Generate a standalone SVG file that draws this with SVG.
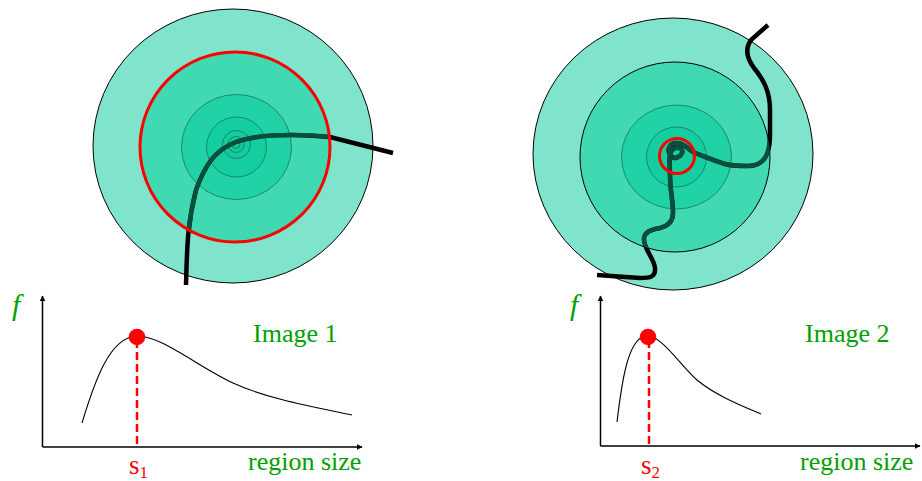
<svg xmlns="http://www.w3.org/2000/svg" width="922" height="481" viewBox="0 0 922 481">
<style>
.lbl{font-family:"Liberation Serif","Times New Roman",serif;font-size:26px;fill:#00a000}
.fl{font-family:"Liberation Serif","Times New Roman",serif;font-size:30px;font-style:italic;fill:#00a000}
.sl{font-family:"Liberation Serif","Times New Roman",serif;font-size:27px;fill:#ff0000}
.axis{stroke:#000;stroke-width:1.5;fill:none;marker-end:url(#arr)}
.fcurve{stroke:#000;stroke-width:1.1;fill:none}
.dash{stroke:#ff0000;stroke-width:2.5;stroke-dasharray:8 4;fill:none}
.ring{stroke:#1a6a55;stroke-width:0.9;stroke-opacity:0.8}
.path-out{stroke:#000;stroke-width:4.5;fill:none;stroke-linecap:butt}
.path-in{stroke:#0b6b52;stroke-width:4.2;fill:none;stroke-opacity:0.75}
</style>
<defs>
<marker id="arr" viewBox="0 0 10 10" refX="9" refY="5" markerWidth="6" markerHeight="6" markerUnits="userSpaceOnUse" orient="auto">
<path d="M0,0 L10,5 L0,10 z" fill="#000"/>
</marker>
<clipPath id="c1"><circle cx="235" cy="147" r="95"/></clipPath>
<clipPath id="c2"><circle cx="675" cy="157" r="95"/></clipPath>
</defs>

<g id="image1">
<ellipse cx="233" cy="146" rx="140" ry="137" fill="#80e4cc" stroke="#000" stroke-width="1"/>
<circle cx="235" cy="147" r="95" fill="#40d9b2"/>
<ellipse cx="236.5" cy="147" rx="55" ry="52.5" fill="#20d2a5" class="ring"/>
<circle cx="236.5" cy="147" r="30" fill="#14ce9f" class="ring"/>
<circle cx="236.5" cy="144.5" r="14" fill="#12cc9d" class="ring" stroke-opacity="0.5"/>
<circle cx="236" cy="144.5" r="8" fill="#10cb9c" class="ring" stroke-opacity="0.4"/>
<circle cx="236" cy="144.5" r="4" fill="none" class="ring" stroke-opacity="0.4"/>
</g>

<g id="image2">
<ellipse cx="673" cy="154" rx="140" ry="136" fill="#80e4cc" stroke="#000" stroke-width="1"/>
<circle cx="675" cy="157" r="95" fill="#40d9b2" stroke="#000" stroke-width="1"/>
<ellipse cx="676.5" cy="157" rx="55" ry="52" fill="#20d2a5" class="ring"/>
<circle cx="676.5" cy="157" r="30" fill="#14ce9f" class="ring"/>
</g>

<g id="connectors">
<path class="path-out" d="M186,285 C187,250 187,225 196,190 C205,165 215,150 236,142 C255,135 290,133 330,137 L393,153"/>
<path class="path-in" clip-path="url(#c1)" d="M186,285 C187,250 187,225 196,190 C205,165 215,150 236,142 C255,135 290,133 330,137 L393,153"/>
<path class="path-out" d="M768,25 L752,39 C745,47 746,57 754,68 C764,80 770,92 770,110 L770,135 C770,155 764,166 748,166 C738,166 732,166 725,164 C712,160 703,156 695,153 C688,150 685,143 677,143 C669,143 667,150 670,155 C673,160 680,158 682,153 C684,148 676,146 672,150 C668,155 670,165 670,175 C670,190 673,200 673,213 C673,222 668,226 660,228 C650,230 645,232 644,238 C643,248 654,258 655,268 C656,278 648,278 640,278 L597,275"/>
<path class="path-in" clip-path="url(#c2)" d="M768,25 L752,39 C745,47 746,57 754,68 C764,80 770,92 770,110 L770,135 C770,155 764,166 748,166 C738,166 732,166 725,164 C712,160 703,156 695,153 C688,150 685,143 677,143 C669,143 667,150 670,155 C673,160 680,158 682,153 C684,148 676,146 672,150 C668,155 670,165 670,175 C670,190 673,200 673,213 C673,222 668,226 660,228 C650,230 645,232 644,238 C643,248 654,258 655,268 C656,278 648,278 640,278 L597,275"/>
</g>

<g id="scale1">
<circle cx="235" cy="147" r="95" fill="none" stroke="#ff0000" stroke-width="3"/>
</g>
<g id="scale2">
<circle cx="677" cy="156" r="17.5" fill="none" stroke="#ff0000" stroke-width="3"/>
</g>

<g id="graph1">
<path class="axis" d="M42.5,447 L42.5,296"/>
<path class="axis" d="M42.5,447 L362,447"/>
<path class="fcurve" d="M82,423 C95,380 110,337 137,336 C160,335 200,368 233,383 C270,400 320,408 352,415"/>
<path class="dash" d="M137,340 L137,447"/>
<circle cx="137" cy="337" r="8.3" fill="#ff0000"/>
<text class="fl" x="12" y="315">f</text>
<text class="lbl" x="253" y="342">Image 1</text>
<text class="lbl" x="248" y="470">region size</text>
<text class="sl" x="129" y="474">s<tspan font-size="17" dy="4">1</tspan></text>
</g>

<g id="graph2">
<path class="axis" d="M600.5,446 L600.5,296"/>
<path class="axis" d="M600.5,446 L920,446"/>
<path class="fcurve" d="M617,422 C622,380 628,340 645,336 C660,333 680,365 697,380 C715,395 740,405 761,414"/>
<path class="dash" d="M649,340 L649,446"/>
<circle cx="648" cy="337" r="8.3" fill="#ff0000"/>
<text class="fl" x="570" y="315">f</text>
<text class="lbl" x="805" y="342">Image 2</text>
<text class="lbl" x="800" y="470">region size</text>
<text class="sl" x="641" y="474">s<tspan font-size="17" dy="4">2</tspan></text>
</g>
</svg>
